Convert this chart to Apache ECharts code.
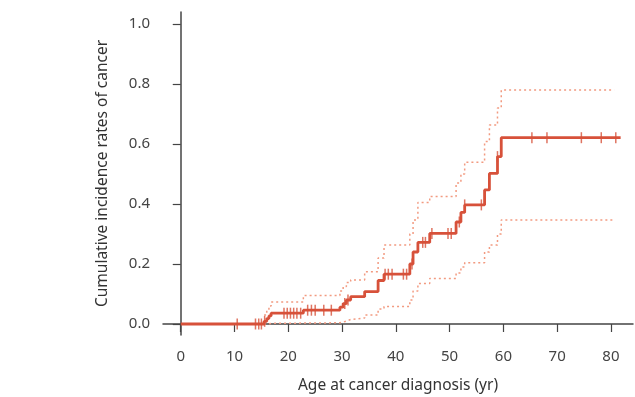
<!DOCTYPE html>
<html><head><meta charset="utf-8">
<script src="https://cdn.jsdelivr.net/npm/echarts@6/dist/echarts.min.js"></script>
<style>html,body{margin:0;padding:0;background:#fff}#c{width:635px;height:397px}</style>
</head><body><div id="c"></div>
<script>
const xTicks = [0, 10, 20, 30, 40, 50, 60, 70, 80];
const yTicks = [0, 0.2, 0.4, 0.6, 0.8, 1.0];

const mainTimes = [0, 15.5, 16.0, 16.4, 16.8, 22.8, 29.6, 30.2, 30.8, 31.6, 34.2, 36.7, 37.8, 42.6, 43.2, 44.1, 46.3, 51.2, 52.1, 52.8, 56.5, 57.4, 58.9, 59.6, 81.8];
const mainVals  = [0, 0.009, 0.018, 0.027, 0.036, 0.046, 0.056, 0.068, 0.080, 0.091, 0.108, 0.145, 0.166, 0.200, 0.240, 0.272, 0.302, 0.340, 0.372, 0.397, 0.447, 0.502, 0.558, 0.621, 0.621];

const ciTimes  = [15.5, 16.0, 16.4, 16.8, 22.8, 29.6, 30.2, 30.8, 31.6, 34.2, 36.7, 37.8, 42.6, 43.2, 44.1, 46.3, 51.2, 52.1, 52.8, 56.5, 57.4, 58.9, 59.6, 80.6];
const upperVals = [0.03, 0.045, 0.06, 0.073, 0.095, 0.11, 0.125, 0.138, 0.147, 0.174, 0.22, 0.263, 0.30, 0.347, 0.405, 0.425, 0.47, 0.50, 0.539, 0.608, 0.663, 0.72, 0.78, 0.78];
const lowerVals = [0.0, 0.001, 0.002, 0.003, 0.004, 0.006, 0.010, 0.015, 0.020, 0.030, 0.050, 0.058, 0.080, 0.110, 0.135, 0.152, 0.170, 0.190, 0.204, 0.240, 0.263, 0.300, 0.347, 0.347];

const censorAges = [10.5, 13.9, 14.5, 15.0, 15.6, 19.2, 19.8, 20.4, 21.0, 21.6, 22.3, 23.6, 24.3, 25.0, 26.6, 28.0, 30.5, 31.1, 38.0, 38.6, 39.3, 41.4, 42.0, 43.0, 45.0, 45.5, 46.7, 49.7, 50.3, 51.8, 52.8, 55.9, 58.9, 65.3, 68.1, 74.5, 78.2, 80.9];

function pairs(t, v) { return t.map((x, i) => [x, v[i]]); }
function valueAt(age) {
  let v = mainVals[0];
  for (let i = 0; i < mainTimes.length; i++) { if (mainTimes[i] <= age) v = mainVals[i]; }
  return v;
}

const mainColor = '#d7513a';
const ciColor = '#f29a80';
const font = 'Noto Sans';

const chart = echarts.init(document.getElementById('c'), null, {renderer: 'canvas'});
chart.setOption({
  animation: false,
  grid: {left: 163, right: 2, top: 12, bottom: 62, containLabel: false, outerBoundsMode: 'none'},
  xAxis: {
    type: 'value', min: -3.3, max: 84.1,
    name: 'Age at cancer diagnosis (yr)', nameLocation: 'middle', nameGap: 43,
    nameTextStyle: {fontFamily: font, fontSize: 15.5, color: '#333'},
    axisLine: {show: true, lineStyle: {color: '#444', width: 1.5}},
    axisTick: {show: true, inside: false, length: 8, lineStyle: {color: '#444', width: 1.2}, customValues: xTicks},
    axisLabel: {fontFamily: font, fontSize: 15, color: '#444', margin: 14, customValues: xTicks, formatter: v => String(v)},
    splitLine: {show: false}
  },
  yAxis: {
    type: 'value', min: -0.0367, max: 1.04,
    name: 'Cumulative incidence rates of cancer', nameLocation: 'middle', nameGap: 52,
    nameTextStyle: {fontFamily: font, fontSize: 15.5, color: '#333'},
    axisLine: {show: true, lineStyle: {color: '#444', width: 1.5}},
    axisTick: {show: true, inside: false, length: 8, lineStyle: {color: '#444', width: 1.2}, customValues: yTicks},
    axisLabel: {fontFamily: font, fontSize: 15, color: '#444', margin: 13, customValues: yTicks, formatter: v => v.toFixed(1)},
    splitLine: {show: false}
  },
  series: [
    {type: 'line', step: 'end', data: pairs(ciTimes, upperVals), showSymbol: false,
     lineStyle: {color: ciColor, width: 1.5, type: [2, 3]}, z: 2},
    {type: 'line', step: 'end', data: pairs(ciTimes, lowerVals), showSymbol: false,
     lineStyle: {color: ciColor, width: 1.5, type: [2, 3]}, z: 2},
    {type: 'line', step: 'end', data: pairs(mainTimes, mainVals), showSymbol: false,
     lineStyle: {color: mainColor, width: 2.8}, z: 3},
    {type: 'scatter', data: censorAges.map(a => [a, valueAt(a)]), symbol: 'rect', symbolSize: [1.5, 11],
     itemStyle: {color: mainColor}, z: 4}
  ]
});
</script></body></html>
